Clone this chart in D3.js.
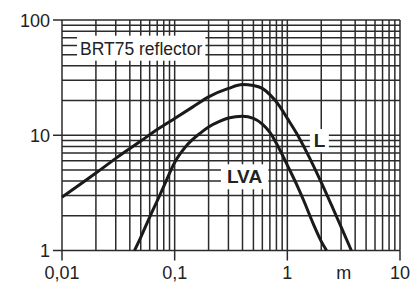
<!DOCTYPE html>
<html>
<head>
<meta charset="utf-8">
<script src="https://cdn.jsdelivr.net/npm/d3@7"></script>
<style>
body { margin: 0; background: #fff; }
svg { display: block; }
text { font-family: "Liberation Sans", Arial, Helvetica, sans-serif; fill: #222; }
</style>
</head>
<body>
<div id="chart"></div>
<script>
// distance in m, illuminance values
var lDist = [0.01, 0.02, 0.03, 0.05, 0.07, 0.1, 0.15, 0.2, 0.3, 0.4, 0.5, 0.6, 0.7, 0.85, 1.0, 1.2, 1.5, 2.0, 2.5, 3.0, 3.7];
var lVal  = [2.9, 4.7, 6.3, 8.9, 11.2, 14.0, 18.0, 21.5, 25.5, 27.5, 27, 25.5, 22.5, 18, 14, 10.5, 7, 3.9, 2.4, 1.6, 1.0];

var lvaDist = [0.044, 0.05, 0.06, 0.07, 0.08, 0.1, 0.13, 0.17, 0.2, 0.25, 0.3, 0.4, 0.5, 0.6, 0.7, 0.85, 1.0, 1.2, 1.4, 1.7, 2.0, 2.23];
var lvaVal  = [1.0, 1.3, 1.95, 2.7, 3.6, 5.8, 8.3, 10.5, 11.8, 13.2, 14.1, 14.6, 14.0, 12.5, 10.6, 7.6, 5.5, 3.8, 2.7, 1.7, 1.2, 1.0];

var xTicks = [0.01, 0.1, 1, 10];
var xTickLabels = ["0,01", "0,1", "1", "10"];
var yTicks = [1, 10, 100];
var yTickLabels = ["1", "10", "100"];
var unitLabel = "m";

// annotations: text, x, y (data coords of the text start / baseline)
var notes = [
	{ text: "BRT75 reflector", x: 0.01445, y: 50, bold: false, size: 17.5, pad: [3, 3, 3, 2] },
	{ text: "L", x: 1.72, y: 7.9, bold: true, size: 19, pad: [4, 3, 1, 1] },
	{ text: "LVA", x: 0.291, y: 3.83, bold: true, size: 19, pad: [6, 6, 2, 2] }
];

var width = 413, height = 282;

var svg = d3.select("#chart").append("svg")
	.attr("width", width)
	.attr("height", height);

var x = d3.scaleLog().domain([0.01, 10]).range([62, 400]);
var y = d3.scaleLog().domain([1, 100]).range([250.5, 20]);

var gridColor = "#2b2b2b";

// grid values 1..9 per decade
var xGrid = [];
[0.01, 0.1, 1].forEach(function(d) {
	for (var k = 1; k < 10; k++) xGrid.push(d * k);
});
xGrid.push(10);
var yGrid = [];
[1, 10].forEach(function(d) {
	for (var k = 1; k < 10; k++) yGrid.push(d * k);
});
yGrid.push(100);

var grid = svg.append("g");
grid.selectAll("line.v")
	.data(xGrid)
	.enter()
	.append("line")
	.attr("class", "v")
	.attr("x1", function(d) { return x(d); })
	.attr("x2", function(d) { return x(d); })
	.attr("y1", y(100))
	.attr("y2", y(1))
	.style("stroke", gridColor)
	.style("stroke-width", 1.5);

grid.selectAll("line.h")
	.data(yGrid)
	.enter()
	.append("line")
	.attr("class", "h")
	.attr("x1", x(0.01))
	.attr("x2", x(10))
	.attr("y1", function(d) { return y(d); })
	.attr("y2", function(d) { return y(d); })
	.style("stroke", gridColor)
	.style("stroke-width", 1.5);

// major tick stubs outside the frame
grid.selectAll("line.xt")
	.data(xTicks)
	.enter()
	.append("line")
	.attr("x1", function(d) { return x(d); })
	.attr("x2", function(d) { return x(d); })
	.attr("y1", y(1))
	.attr("y2", y(1) + 10)
	.style("stroke", gridColor)
	.style("stroke-width", 1.5);

grid.selectAll("line.yt")
	.data(yTicks)
	.enter()
	.append("line")
	.attr("x1", x(0.01) - 9)
	.attr("x2", x(0.01))
	.attr("y1", function(d) { return y(d); })
	.attr("y2", function(d) { return y(d); })
	.style("stroke", gridColor)
	.style("stroke-width", 1.5);

// tick labels
svg.selectAll("text.xl")
	.data(xTicks)
	.enter()
	.append("text")
	.attr("x", function(d) { return x(d); })
	.attr("y", 279)
	.attr("text-anchor", "middle")
	.style("font-size", "18px")
	.text(function(d, i) { return xTickLabels[i]; });

svg.append("text")
	.attr("x", x(Math.sqrt(10)))
	.attr("y", 279)
	.attr("text-anchor", "middle")
	.style("font-size", "18px")
	.text(unitLabel);

svg.selectAll("text.yl")
	.data(yTicks)
	.enter()
	.append("text")
	.attr("x", x(0.01) - 12)
	.attr("y", function(d) { return y(d) + 6.5; })
	.attr("text-anchor", "end")
	.style("font-size", "18px")
	.text(function(d, i) { return yTickLabels[i]; });

// white label boxes, then curves, then label text
var boxes = svg.append("g");
var curves = svg.append("g");
var labels = svg.append("g");

var line = d3.line()
	.x(function(d) { return x(d[0]); })
	.y(function(d) { return y(d[1]); })
	.curve(d3.curveMonotoneX);

[[lDist, lVal], [lvaDist, lvaVal]].forEach(function(s) {
	var pts = s[0].map(function(d, i) { return [d, s[1][i]]; });
	curves.append("path")
		.attr("d", line(pts))
		.style("fill", "none")
		.style("stroke", "#1a1a1a")
		.style("stroke-width", 3)
		.style("stroke-linejoin", "round");
});

notes.forEach(function(n) {
	var t = labels.append("text")
		.attr("x", x(n.x))
		.attr("y", y(n.y))
		.style("font-size", n.size + "px")
		.style("font-weight", n.bold ? "bold" : "normal")
		.text(n.text);
	var b = t.node().getBBox();
	boxes.append("rect")
		.attr("x", b.x - n.pad[0])
		.attr("y", b.y - n.pad[2])
		.attr("width", b.width + n.pad[0] + n.pad[1])
		.attr("height", b.height + n.pad[2] + n.pad[3])
		.style("fill", "#fff");
});
</script>
</body>
</html>
